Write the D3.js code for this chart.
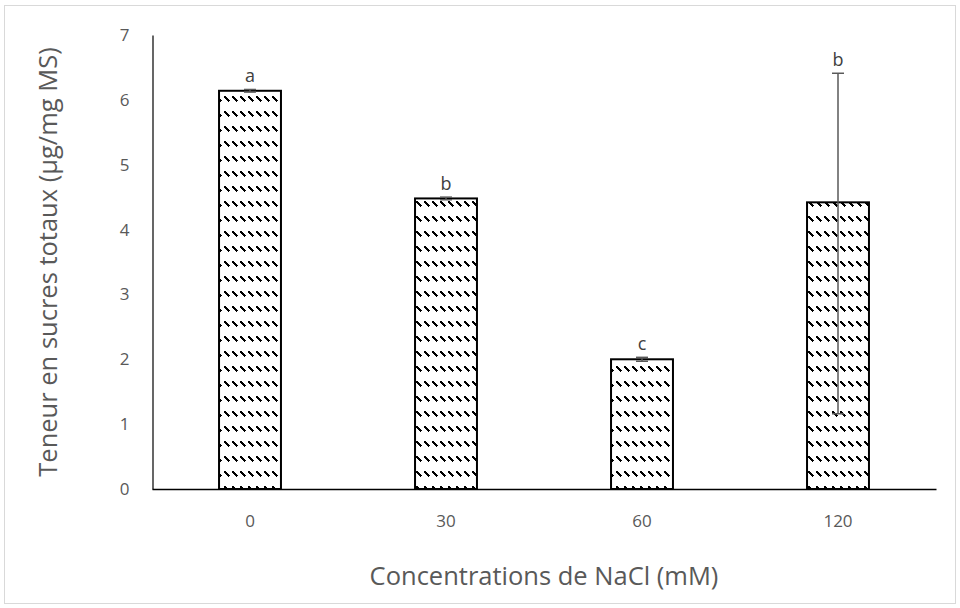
<!DOCTYPE html>
<html>
<head>
<meta charset="utf-8">
<script src="https://cdn.jsdelivr.net/npm/d3@7"></script>
<style>
  body { margin: 0; background: #fff; }
  svg { display: block; font-family: "Open Sans", sans-serif; }
</style>
</head>
<body>
<div id="chart"></div>
<script>
// data
var categories = ["0", "30", "60", "120"];
var values = [6.14, 4.48, 2.0, 4.42];
var errUp = [0.02, 0.02, 0.03, 1.99];
var errDown = [0.02, 0.02, 0.03, 3.26];
var letters = ["a", "b", "c", "b"];
var yTicks = [0, 1, 2, 3, 4, 5, 6, 7];

var W = 960, H = 608;
var margin = {top: 35, right: 24, bottom: 119, left: 152},
    width = W - margin.left - margin.right,
    height = H - margin.top - margin.bottom;

var svg = d3.select("#chart").append("svg")
    .attr("width", W)
    .attr("height", H);

// dashed downward diagonal fill
var pat = svg.append("defs").append("pattern")
    .attr("id", "dashDn")
    .attr("patternUnits", "userSpaceOnUse")
    .attr("width", 8)
    .attr("height", 15);
pat.append("rect").attr("width", 8).attr("height", 15).attr("fill", "#fff");
pat.append("path")
    .attr("d", "M0.5,1.5 L5.5,6.5")
    .attr("stroke", "#000")
    .attr("stroke-width", 1.8)
    .attr("shape-rendering", "crispEdges");

// chart border
svg.append("rect")
    .attr("x", 4.5).attr("y", 5.5)
    .attr("width", 951).attr("height", 598)
    .attr("fill", "none")
    .attr("stroke", "#d9d9d9");

var g = svg.append("g")
    .attr("transform", "translate(" + margin.left + "," + margin.top + ")");

var x = d3.scaleBand()
    .domain(categories)
    .range([0, width])
    .paddingInner(0.684)
    .paddingOuter(0.342);

var y = d3.scaleLinear()
    .domain([0, 7])
    .range([height, 0]);

// bars
g.selectAll(".bar")
    .data(values)
    .enter().append("rect")
    .attr("class", "bar")
    .attr("x", function(d, i) { return x(categories[i]); })
    .attr("y", function(d) { return y(d); })
    .attr("width", x.bandwidth())
    .attr("height", function(d) { return height - y(d); })
    .attr("fill", "url(#dashDn)")
    .attr("stroke", "#000")
    .attr("stroke-width", 2);

// error bars
var cx = function(i) { return x(categories[i]) + x.bandwidth() / 2; };
var err = g.selectAll(".err")
    .data(values)
    .enter().append("g")
    .attr("class", "err")
    .attr("stroke", "#595959")
    .attr("stroke-width", 1.5);
err.append("line")
    .attr("x1", function(d, i) { return cx(i); })
    .attr("x2", function(d, i) { return cx(i); })
    .attr("y1", function(d, i) { return y(d + errUp[i]); })
    .attr("y2", function(d, i) { return y(d - errDown[i]); });
err.append("line")
    .attr("x1", function(d, i) { return cx(i) - 6; })
    .attr("x2", function(d, i) { return cx(i) + 6; })
    .attr("y1", function(d, i) { return y(d + errUp[i]); })
    .attr("y2", function(d, i) { return y(d + errUp[i]); });
err.append("line")
    .attr("x1", function(d, i) { return cx(i) - 6; })
    .attr("x2", function(d, i) { return cx(i) + 6; })
    .attr("y1", function(d, i) { return y(d - errDown[i]); })
    .attr("y2", function(d, i) { return y(d - errDown[i]); });

// significance letters
g.selectAll(".letter")
    .data(letters)
    .enter().append("text")
    .attr("class", "letter")
    .attr("x", function(d, i) { return cx(i); })
    .attr("y", function(d, i) { return y(values[i] + errUp[i]) - 7; })
    .attr("text-anchor", "middle")
    .attr("font-size", 18)
    .attr("fill", "#404040")
    .text(function(d) { return d; });

// axes
var yAxis = g.append("g")
    .attr("transform", "translate(0.5,0)")
    .call(d3.axisLeft(y).tickValues(yTicks).tickFormat(d3.format("d")).tickSize(0).tickPadding(23));
yAxis.select(".domain").attr("stroke", "#000").attr("stroke-width", 1.2);
yAxis.selectAll("text").attr("font-size", 17).attr("fill", "#595959").attr("font-family", "Open Sans");

var xAxis = g.append("g")
    .attr("transform", "translate(0," + height + ")")
    .call(d3.axisBottom(x).tickSize(0).tickPadding(26));
xAxis.select(".domain").attr("stroke", "#000").attr("stroke-width", 1.6);
xAxis.selectAll("text").attr("font-size", 17).attr("fill", "#595959").attr("font-family", "Open Sans");

// axis titles
svg.append("text")
    .attr("x", margin.left + width / 2)
    .attr("y", 585)
    .attr("text-anchor", "middle")
    .attr("font-size", 25.5)
    .attr("fill", "#595959")
    .text("Concentrations de NaCl (mM)");

svg.append("text")
    .attr("transform", "translate(57," + (margin.top + height / 2) + ") rotate(-90)")
    .attr("text-anchor", "middle")
    .attr("font-size", 25.5)
    .attr("fill", "#595959")
    .text("Teneur en sucres totaux (µg/mg MS)");
</script>
</body>
</html>
